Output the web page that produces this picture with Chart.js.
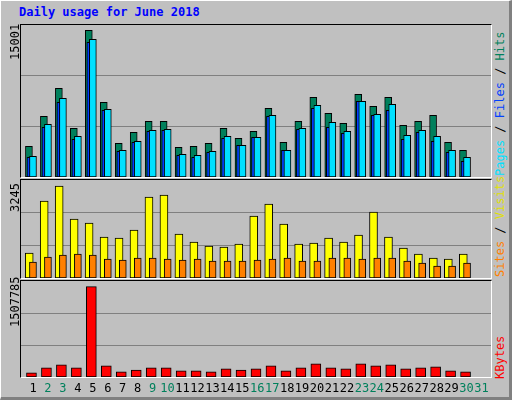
<!DOCTYPE html>
<html><head><meta charset="utf-8">
<script src="https://cdn.jsdelivr.net/npm/chart.js@4"></script>
<style>
body{margin:0;background:#fff}
#frame{position:absolute;left:0;top:0;width:508px;height:396px;background:#c0c0c0;border-top:1px solid #fff;border-left:1px solid #fff;border-right:3px solid #808080;border-bottom:3px solid #808080}
.plot{position:absolute;left:20px;width:470px;border-top:1px solid #000;border-left:1px solid #000;border-right:1px solid #fff;border-bottom:1px solid #fff;background:#c0c0c0}
.plot canvas{position:absolute;left:0;top:0}
.t{position:absolute;font-family:"DejaVu Sans Mono",monospace;font-size:12px;white-space:nowrap}
.up{transform-origin:0 0;transform:rotate(-90deg)}
</style></head>
<body>
<div id="frame"></div>
<div class="t" style="left:19px;top:5px;color:#0000ff;font-weight:bold">Daily usage for June 2018</div>
<div class="plot" style="top:24px;height:152px"><canvas id="c1"></canvas></div>
<div class="plot" style="top:179px;height:98px"><canvas id="c2"></canvas></div>
<div class="plot" style="top:280px;height:96px"><canvas id="c3"></canvas></div>
<div class="t up" style="left:8px;top:60px">15001</div>
<div class="t up" style="left:8px;top:212px">3245</div>
<div class="t up" style="left:8px;top:327px">1507785</div>
<div class="t up" style="left:493px;top:176px"><span style="color:#00e0ff">Pages</span> / <span style="color:#0040ff">Files</span> / <span style="color:#00805c">Hits</span></div>
<div class="t up" style="left:493px;top:277px"><span style="color:#ff8000">Sites</span> / <span style="color:#e0e000">Visits</span></div>
<div class="t up" style="left:493px;top:379px;color:#ff0000">KBytes</div>
<div id="days"></div>
<script>
const days = Array.from({length: 30}, (_, i) => i + 1);
const dayLabels = Array.from({length: 31}, (_, i) => String(i + 1));
const weekendDays = [2, 3, 9, 10, 16, 17, 23, 24, 30, 31];
const hits = [3070,6070,8870,4870,14670,7470,3370,4470,5570,5570,2970,3070,3370,4870,3870,4570,6870,3470,5570,7970,6370,5370,8270,7070,7970,5170,5570,6170,3470,2670];
const files = [1970,4970,7470,3770,13470,6670,2570,3470,4570,4670,2170,1970,2470,3870,3170,3970,6070,2670,4770,6870,4970,4370,7570,6170,6670,3770,4470,3570,2470,1570];
const pages = [2070,5270,7870,4070,13770,6770,2670,3570,4670,4770,2270,2170,2570,4070,3170,3970,6170,2670,4870,7170,5470,4570,7570,6270,7270,4170,4670,4070,2670,1970];
const visits = [828,2549,3045,1953,1820,1357,1324,1589,2681,2747,1456,1192,1059,1026,1125,2052,2449,1787,1125,1159,1324,1192,1423,2185,1357,993,794,662,629,794];
const sites = [530,695,761,794,761,629,596,662,662,629,596,629,563,563,563,596,629,662,563,563,662,662,629,662,662,563,497,397,397,497];
const kbytes = [65000,146000,194000,146000,1450000,178000,81000,113000,146000,146000,97000,97000,81000,130000,113000,130000,178000,97000,146000,211000,146000,130000,211000,178000,194000,130000,146000,162000,97000,81000];

function series(vals, shift) { return vals.map((v, i) => ({x: days[i] + shift, y: v})); }
function ds(vals, shift, color, w, order) {
    return {data: series(vals, shift), backgroundColor: color, borderColor: '#000', borderWidth: 1,
        borderSkipped: false, barThickness: w, grouped: false, order: order};
}

function makeChart(id, w, h, max, sets) {
    const c = document.getElementById(id);
    c.width = w; c.height = h; c.style.width = w + 'px'; c.style.height = h + 'px';
    return new Chart(c, {
        type: 'bar',
        data: {datasets: sets},
        options: {
            responsive: false, animation: false, devicePixelRatio: 1,
            layout: {padding: 0},
            plugins: {legend: {display: false}, tooltip: {enabled: false}},
            scales: {
                x: {type: 'linear', min: 0.2, max: 31.6, offset: false, display: false},
                y: {min: 0, max: max, display: true, border: {display: false},
                    ticks: {display: false},
                    afterBuildTicks: s => { s.ticks = [{value: max / 3}, {value: max * 2 / 3}]; },
                    grid: {color: '#808080', lineWidth: 1, drawTicks: false}}
            }
        }
    });
}

makeChart('c1', 470, 152, 15200, [
    ds(hits, -0.27, '#00805c', 7, 3),
    ds(files, -0.2, '#0040ff', 6, 2),
    ds(pages, 0, '#00e0ff', 7, 1)
]);
makeChart('c2', 470, 98, 3245, [
    ds(visits, -0.25, '#ffff00', 8, 2),
    ds(sites, 0, '#ff8000', 7, 1)
]);
makeChart('c3', 470, 96, 1540000, [
    ds(kbytes, -0.1, '#ff0000', 10, 1)
]);

const dayBox = document.getElementById('days');
dayLabels.forEach((d, i) => {
    const s = document.createElement('div');
    s.className = 't';
    s.textContent = d;
    s.style.top = '381px';
    s.style.left = (33 + i * 14.95) + 'px';
    s.style.transform = 'translateX(-50%)';
    s.style.color = weekendDays.includes(i + 1) ? '#00805c' : '#000';
    dayBox.appendChild(s);
});
</script>
</body></html>
